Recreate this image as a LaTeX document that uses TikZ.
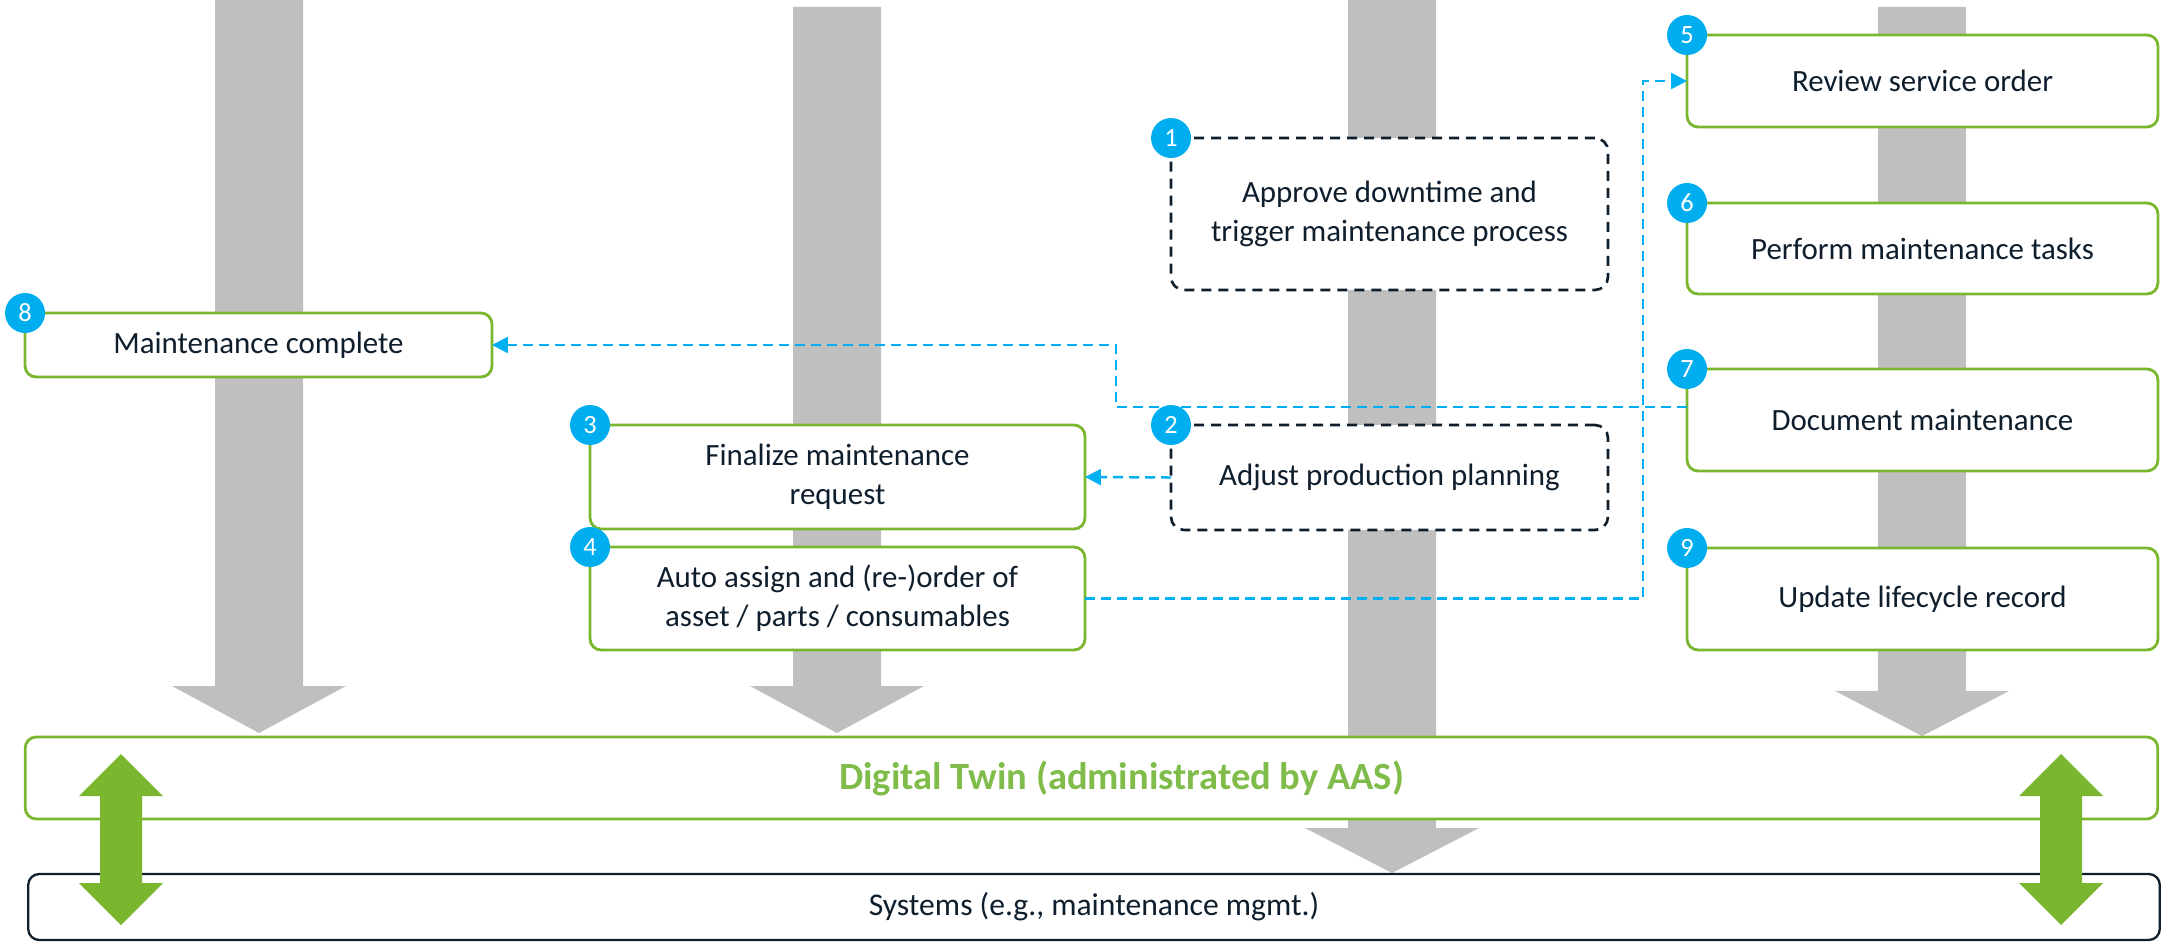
\documentclass[tikz,border=0pt]{standalone}
\usepackage{fontspec}
\setmainfont{Carlito}
\usepackage{xcolor}
\usepackage{tikz}
\usetikzlibrary{arrows.meta}

\definecolor{aasgreen}{HTML}{7AB72F}
\definecolor{twingreen}{HTML}{80BC4A}
\definecolor{numblue}{HTML}{00AEEF}
\definecolor{flowblue}{HTML}{00B0F0}
\definecolor{colgray}{HTML}{BFBFBF}
\definecolor{txtnavy}{HTML}{0F1E2D}

\begin{document}
\begin{tikzpicture}[x=0.02cm,y=-0.02cm,
	greenbox/.style={draw=aasgreen,line width=1.6pt,rounded corners=0.22cm,fill=white,
		text=txtnavy,align=center,outer sep=0pt,font=\fontsize{17.6}{22}\selectfont},
	dashbox/.style={draw=txtnavy,line width=1.5pt,dash pattern=on 0.2cm off 0.14cm,
		rounded corners=0.26cm,fill=white,text=txtnavy,align=center,outer sep=0pt,
		font=\fontsize{17.6}{22}\selectfont},
	num/.style={circle,fill=numblue,text=white,minimum size=0.8cm,inner sep=0pt,
		font=\fontsize{15}{15}\selectfont},
	flow/.style={draw=flowblue,line width=1.4pt,dash pattern=on 0.2cm off 0.12cm,
		-{Triangle[length=0.32cm,width=0.32cm]}}]
	\useasboundingbox (0,0) rectangle (2165,942);
	
	\foreach \cx/\top/\base/\tip in {259/0/686/733, 837/7/686/733, 1392/0/828/873, 1922/7/691/736}
		\fill[colgray] ({\cx-44},\top) -- ({\cx+44},\top) -- ({\cx+44},\base) -- ({\cx+87},\base)
			-- (\cx,\tip) -- ({\cx-87},\base) -- ({\cx-44},\base) -- cycle;
	
	\node[greenbox,minimum width=42.66cm,minimum height=1.64cm] (twin) at (1091.5,778) {};
	\node[text=twingreen,font=\fontsize{21.9}{24}\selectfont\bfseries] (twinlabel)
		at ([xshift=0.6cm]twin.center) {Digital Twin (administrated by AAS)};
	\node[draw=txtnavy,line width=1.3pt,rounded corners=0.22cm,fill=white,text=txtnavy,
		minimum width=42.64cm,minimum height=1.32cm,font=\fontsize{18}{20}\selectfont]
		(sys) at (1094,907) {Systems (e.g., maintenance mgmt.)};
	
	\node[dashbox,minimum width=8.74cm,minimum height=3.04cm] (b1) at (1389.5,214)
		{Approve downtime and\\trigger maintenance process};
	\node[dashbox,minimum width=8.74cm,minimum height=2.10cm] (b2) at (1389.5,477.5)
		{Adjust production planning};
	\node[greenbox,minimum width=9.90cm,minimum height=2.08cm] (b3) at (837.5,477)
		{Finalize maintenance\\request};
	\node[greenbox,minimum width=9.90cm,minimum height=2.06cm] (b4) at (837.5,598.5)
		{Auto assign and (re-)order of\\asset / parts / consumables};
	\node[greenbox,minimum width=9.42cm,minimum height=1.84cm] (b5) at (1922.5,81)
		{Review service order};
	\node[greenbox,minimum width=9.42cm,minimum height=1.82cm] (b6) at (1922.5,248.5)
		{Perform maintenance tasks};
	\node[greenbox,minimum width=9.42cm,minimum height=2.04cm] (b7) at (1922.5,420)
		{Document maintenance};
	\node[greenbox,minimum width=9.34cm,minimum height=1.28cm] (b8) at (258.5,345)
		{Maintenance complete};
	\node[greenbox,minimum width=9.42cm,minimum height=2.04cm] (b9) at (1922.5,599)
		{Update lifecycle record};
	
	\foreach \cx in {121,2061}
		\fill[aasgreen] (\cx,754) -- ({\cx+42},796) -- ({\cx+21},796) -- ({\cx+21},883)
			-- ({\cx+42},883) -- (\cx,925) -- ({\cx-42},883) -- ({\cx-21},883)
			-- ({\cx-21},796) -- ({\cx-42},796) -- cycle;
	
	\coordinate (j45) at (1643,300);
	\coordinate (j78) at (1116,380);
	\draw[flow] (b2.west) -- (b3.east);
	\draw[flow] (b4.east) -| (j45) |- (b5.west);
	\draw[flow] ([yshift=0.26cm]b7.west) -| (j78) |- (b8.east);
	
	\foreach \i in {1,...,9}
		\node[num] (n\i) at (b\i.north west) {\i};
\end{tikzpicture}
\end{document}
